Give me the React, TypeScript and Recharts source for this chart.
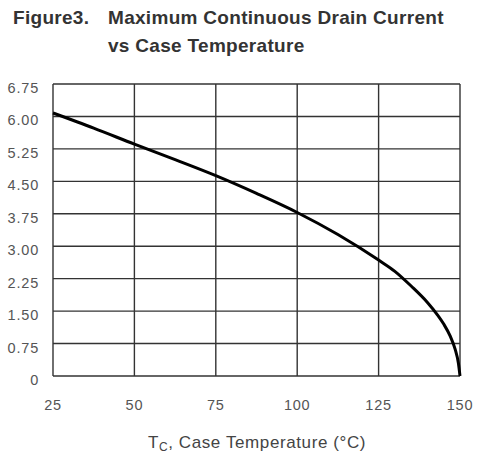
import React from "react";
import { LineChart, Line, XAxis, YAxis, CartesianGrid, Label } from "recharts";

const temperatures = [25, 37.5, 50, 62.5, 75, 87.5, 100, 112.5, 125, 130, 135, 140, 143, 145, 147, 148.5, 149.5, 150];
const drainCurrent = [6.08, 5.73, 5.36, 5.0, 4.63, 4.22, 3.78, 3.27, 2.68, 2.42, 2.08, 1.7, 1.42, 1.2, 0.92, 0.62, 0.3, 0];
const xTicks = [25, 50, 75, 100, 125, 150];
const yTicks = [0, 0.75, 1.5, 2.25, 3, 3.75, 4.5, 5.25, 6, 6.75];

const data = temperatures.map((t, i) => ({ t, id: drainCurrent[i] }));

const font = "'Liberation Sans', Arial, sans-serif";

const YTick = (props: any) => {
  const { x, y, payload } = props;
  const v = payload.value as number;
  return (
    <text x={x} y={y} dy={9} textAnchor="end" fontFamily={font} fontSize={14.5} fill="#555" letterSpacing={0.8}>
      {v === 0 ? "0" : v.toFixed(2)}
    </text>
  );
};

const XTick = (props: any) => {
  const { x, y, payload } = props;
  return (
    <text x={x} y={y} dy={14} textAnchor="middle" fontFamily={font} fontSize={14.5} fill="#555" letterSpacing={0.8}>
      {payload.value}
    </text>
  );
};

const XLabel = () => (
  <text x={257} y={448} textAnchor="middle" fontFamily={font} fontSize={17} fill="#444" letterSpacing={0.6}>
    <tspan>T</tspan>
    <tspan fontSize={12} dy={3}>C</tspan>
    <tspan dy={-3}>, Case Temperature (°C)</tspan>
  </text>
);

export default function App() {
  const titleStyle: React.CSSProperties = {
    position: "absolute",
    fontFamily: font,
    fontWeight: 700,
    fontSize: 19,
    color: "#333",
    whiteSpace: "nowrap",
    lineHeight: "20px",
    letterSpacing: 0.3,
  };
  return (
    <div style={{ position: "absolute", left: 0, top: 0, width: 487, height: 453, background: "#fff" }}>
      <div style={{ ...titleStyle, left: 13, top: 8 }}>Figure3.</div>
      <div style={{ ...titleStyle, left: 108, top: 8 }}>Maximum Continuous Drain Current</div>
      <div style={{ ...titleStyle, left: 108, top: 36 }}>vs Case Temperature</div>
      <div style={{ position: "absolute", left: 0, top: 0 }}>
        <LineChart width={487} height={453} data={data} margin={{ top: 84, right: 27, bottom: 0, left: 8 }}>
          <CartesianGrid stroke="#333" strokeWidth={1.4} />
          <XAxis
            dataKey="t"
            type="number"
            domain={[25, 150]}
            ticks={xTicks}
            height={77}
            tickSize={0}
            tickMargin={20}
            axisLine={false}
            tick={<XTick />}
            interval={0}
          >
            <Label content={<XLabel />} />
          </XAxis>
          <YAxis
            type="number"
            domain={[0, 6.75]}
            ticks={yTicks}
            width={45}
            tickSize={0}
            tickMargin={14}
            axisLine={false}
            tick={<YTick />}
            interval={0}
          />
          <Line type="monotone" dataKey="id" stroke="#000" strokeWidth={3} dot={false} isAnimationActive={false} />
        </LineChart>
      </div>
    </div>
  );
}
